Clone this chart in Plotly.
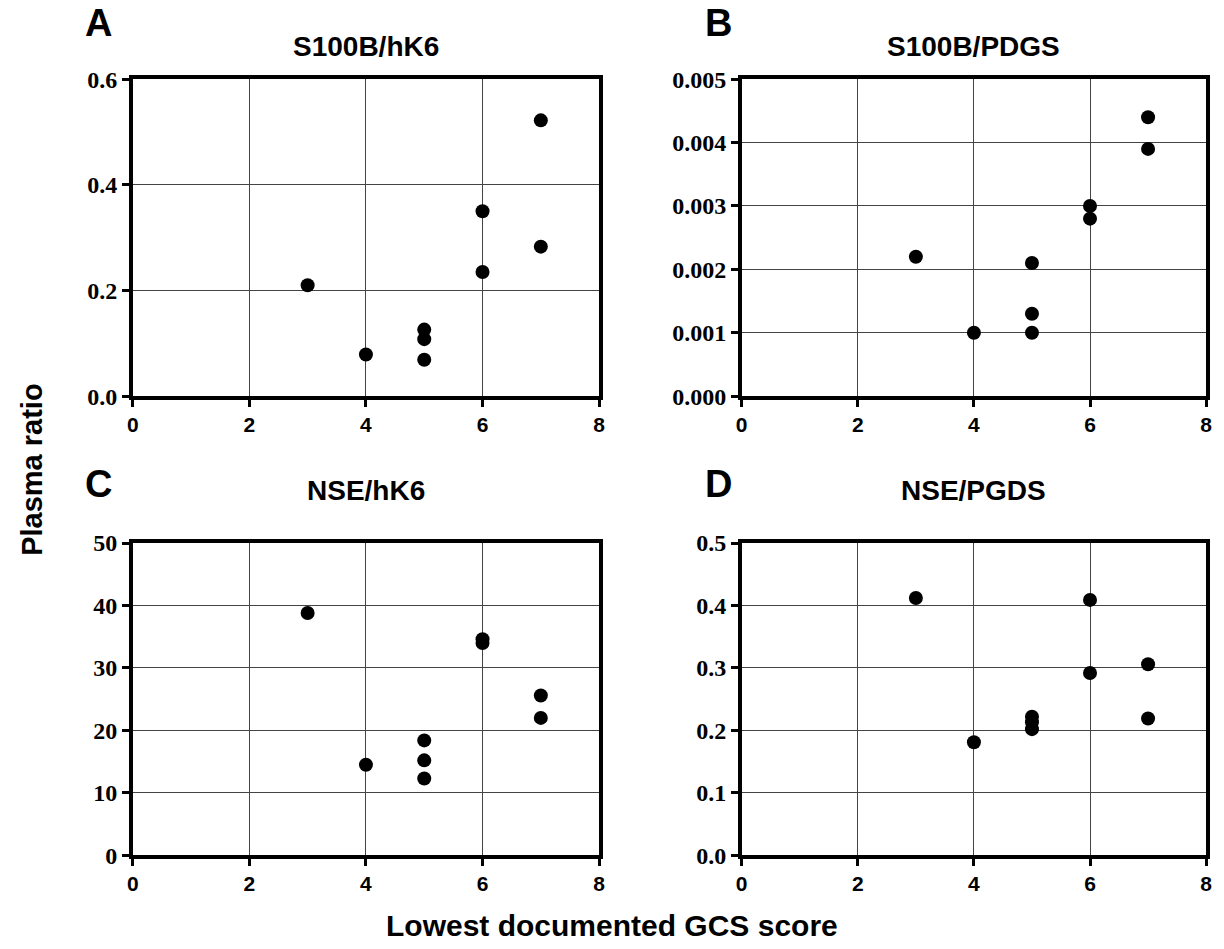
import plotly.graph_objects as go

# Panel A: S100B/hK6
a_x = [3, 4, 5, 5, 5, 6, 6, 7, 7]
a_y = [0.21, 0.079, 0.126, 0.108, 0.069, 0.350, 0.235, 0.522, 0.283]
# Panel B: S100B/PDGS
b_x = [3, 4, 5, 5, 5, 6, 6, 7, 7]
b_y = [0.0022, 0.0010, 0.0021, 0.0013, 0.0010, 0.0030, 0.0028, 0.0044, 0.0039]
# Panel C: NSE/hK6
c_x = [3, 4, 5, 5, 5, 6, 6, 7, 7]
c_y = [38.8, 14.5, 18.4, 15.2, 12.3, 34.6, 34.0, 25.6, 22.0]
# Panel D: NSE/PGDS
d_x = [3, 4, 5, 5, 5, 6, 6, 7, 7]
d_y = [0.412, 0.181, 0.222, 0.213, 0.202, 0.409, 0.292, 0.306, 0.219]

titles = ["S100B/hK6", "S100B/PDGS", "NSE/hK6", "NSE/PGDS"]
letters = ["A", "B", "C", "D"]
x_ticks = [0, 2, 4, 6, 8]
y_ranges = [[0, 0.6], [0, 0.005], [0, 50], [0, 0.5]]
y_dticks = [0.2, 0.001, 10, 0.1]
y_formats = [".1f", ".3f", "d", ".1f"]

W, H = 1224, 949
# pixel boxes (left, right, top, bottom)
boxes = [(128, 599, 68, 394), (743, 1212, 68, 394),
         (128, 599, 545, 866), (743, 1212, 545, 866)]
title_y = [34, 34, 491, 491]
letter_pos = [(93, 10), (720, 10), (93, 484), (720, 484)]

fig = go.Figure()
data = [(a_x, a_y), (b_x, b_y), (c_x, c_y), (d_x, d_y)]
for i, (xs, ys) in enumerate(data):
    n = "" if i == 0 else str(i + 1)
    fig.add_trace(go.Scatter(x=xs, y=ys, mode="markers",
                             marker=dict(color="black", size=14),
                             xaxis="x" + n, yaxis="y" + n, showlegend=False,
                             cliponaxis=False))
    l, r, t, b = boxes[i]
    axcommon = dict(showline=True, linecolor="black", linewidth=3.5, mirror=True,
                    ticks="outside", ticklen=7, tickwidth=2.5, tickcolor="black",
                    showgrid=True, gridcolor="#444444", gridwidth=1, zeroline=False)
    fig.layout["xaxis" + n] = dict(domain=[l / W, r / W], range=[0, 8],
                                   tickvals=x_ticks, anchor="y" + n,
                                   tickfont=dict(family="Liberation Sans", size=21,
                                                 color="black", weight="bold"),
                                   **axcommon)
    fig.layout["yaxis" + n] = dict(domain=[1 - b / H, 1 - t / H], range=y_ranges[i],
                                   dtick=y_dticks[i], tick0=0, tickformat=y_formats[i],
                                   anchor="x" + n,
                                   tickfont=dict(family="Liberation Serif", size=24,
                                                 color="black", weight="bold"),
                                   **axcommon)
    fig.add_annotation(text="<b>" + titles[i] + "</b>", xref="paper", yref="paper",
                       x=(l + r) / 2 / W, y=1 - title_y[i] / H, showarrow=False,
                       xanchor="center", yanchor="middle",
                       font=dict(family="Liberation Sans", size=28, color="black"))
    lx, ly = letter_pos[i]
    fig.add_annotation(text="<b>" + letters[i] + "</b>", xref="paper", yref="paper",
                       x=lx / W, y=1 - ly / H, showarrow=False,
                       xanchor="center", yanchor="middle",
                       font=dict(family="Liberation Sans", size=38, color="black"))

fig.add_annotation(text="<b>Plasma ratio</b>", xref="paper", yref="paper",
                   x=26 / W, y=1 - 470 / H, showarrow=False, textangle=-90,
                   xanchor="center", yanchor="middle",
                   font=dict(family="Liberation Sans", size=29, color="black"))
fig.add_annotation(text="<b>Lowest documented GCS score</b>", xref="paper", yref="paper",
                   x=612 / W, y=1 - 938 / H, showarrow=False,
                   xanchor="center", yanchor="middle",
                   font=dict(family="Liberation Sans", size=30, color="black"))

fig.update_layout(width=W, height=H, margin=dict(l=0, r=0, t=0, b=0),
                  paper_bgcolor="white", plot_bgcolor="white")
fig.write_html("out.html")
